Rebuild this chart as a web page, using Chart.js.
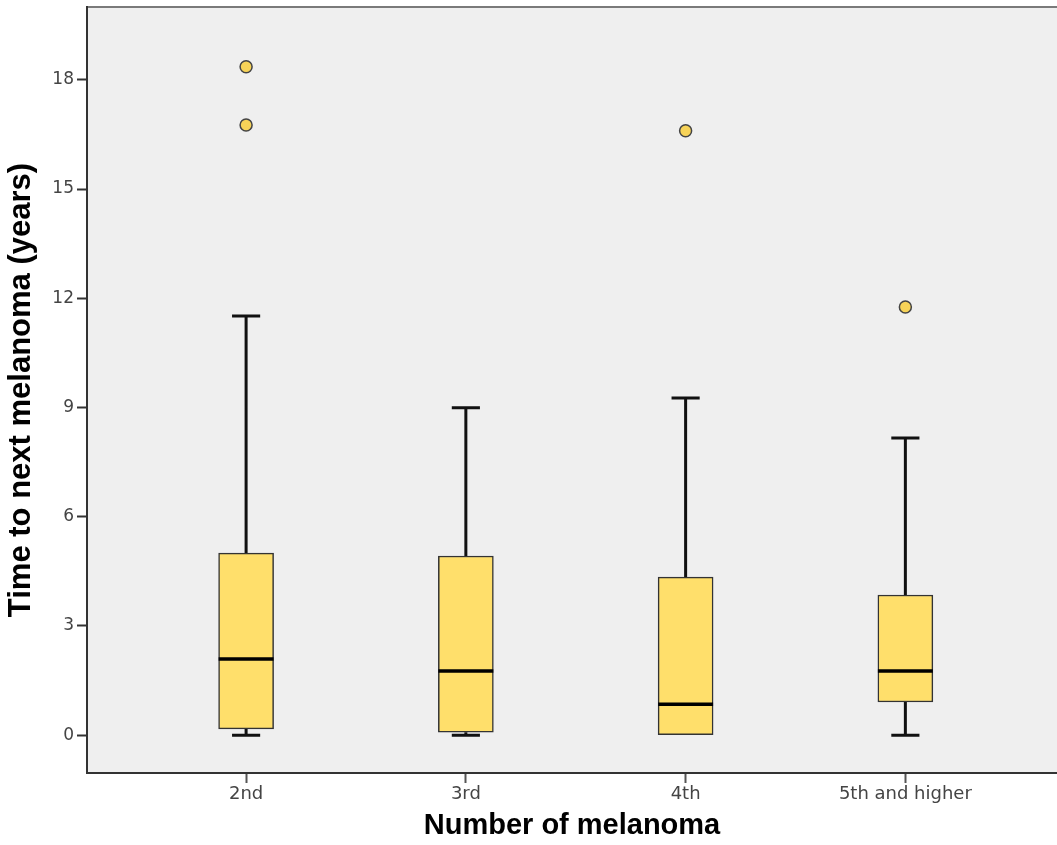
<!DOCTYPE html>
<html>
<head>
<meta charset="utf-8">
<script src="https://cdn.jsdelivr.net/npm/chart.js@4"></script>
<style>
  body { margin: 0; background: #fff; }
  #wrap { width: 1057px; height: 845px; position: relative; }
</style>
</head>
<body>
<div id="wrap"><canvas id="chart"></canvas></div>
<script>
const categories = ["2nd", "3rd", "4th", "5th and higher"];
const whiskerLow = [0, 0, 0, 0];
const q1 = [0.17, 0.08, 0, 0.91];
const medians = [2.09, 1.76, 0.85, 1.76];
const q3 = [5.0, 4.92, 4.34, 3.85];
const whiskerHigh = [11.51, 8.99, 9.26, 8.16];
const outliers = [[18.36, 16.76], [], [16.6], [11.76]];
const yTicks = [0, 3, 6, 9, 12, 15, 18];

const boxHalf = 0.125;  // half box width in category units
const capHalf = 0.064;

// whisker stems + caps, broken with nulls
const whiskerPts = [];
const medianPts = [];
const outlierPts = [];
categories.forEach((c, i) => {
  whiskerPts.push({x: i, y: whiskerLow[i]}, {x: i, y: q1[i]}, {x: i, y: null});
  whiskerPts.push({x: i, y: q3[i]}, {x: i, y: whiskerHigh[i]}, {x: i, y: null});
  if (q1[i] > whiskerLow[i]) {
    whiskerPts.push({x: i - capHalf, y: whiskerLow[i]}, {x: i + capHalf, y: whiskerLow[i]}, {x: i, y: null});
  }
  whiskerPts.push({x: i - capHalf, y: whiskerHigh[i]}, {x: i + capHalf, y: whiskerHigh[i]}, {x: i, y: null});
  medianPts.push({x: i - boxHalf, y: medians[i]}, {x: i + boxHalf, y: medians[i]}, {x: i, y: null});
  outliers[i].forEach(v => outlierPts.push({x: i, y: v}));
});

const panelBg = {
  id: "panelBg",
  beforeDraw(chart) {
    const {ctx, chartArea: a} = chart;
    ctx.save();
    ctx.fillStyle = "#efefef";
    ctx.fillRect(a.left, a.top, a.right - a.left, a.bottom - a.top);
    ctx.strokeStyle = "#7a7a7a";
    ctx.lineWidth = 2;
    ctx.beginPath();
    ctx.moveTo(a.left, a.top);
    ctx.lineTo(a.right, a.top);
    ctx.stroke();
    ctx.restore();
  }
};

new Chart(document.getElementById("chart"), {
  type: "bar",
  data: {
    datasets: [
      {
        type: "bar",
        data: categories.map((c, i) => ({x: i, y: [q1[i], q3[i]]})),
        backgroundColor: "#ffdf6b",
        borderColor: "#333333",
        borderWidth: 1.5,
        borderSkipped: false,
        barThickness: 55,
        order: 2
      },
      {
        type: "line",
        data: whiskerPts,
        borderColor: "#111111",
        borderWidth: 3,
        pointRadius: 0,
        spanGaps: false,
        order: 3
      },
      {
        type: "line",
        data: medianPts,
        borderColor: "#000000",
        borderWidth: 3.5,
        pointRadius: 0,
        spanGaps: false,
        order: 1
      },
      {
        type: "line",
        data: outlierPts,
        showLine: false,
        pointRadius: 6,
        pointBackgroundColor: "#f7d358",
        pointBorderColor: "#444444",
        pointBorderWidth: 1.5,
        order: 0
      }
    ]
  },
  options: {
    responsive: true,
    maintainAspectRatio: false,
    animation: false,
    layout: { autoPadding: false, padding: { top: 7, right: 0, left: 0, bottom: 0 } },
    plugins: { legend: { display: false }, tooltip: { enabled: false } },
    scales: {
      x: {
        type: "linear",
        min: -0.724,
        max: 3.69,
        offset: false,
        afterBuildTicks: s => { s.ticks = categories.map((c, i) => ({value: i})); },
        afterFit: s => { s.height = 72; s.paddingLeft = 0; s.paddingRight = 0; },
        ticks: {
          callback: v => categories[v],
          color: "#444",
          font: { family: "DejaVu Sans", size: 18 },
          padding: 1,
          maxRotation: 0
        },
        grid: { drawOnChartArea: false, drawTicks: true, tickLength: 10, tickColor: "#555", tickWidth: 2, offset: false },
        border: { color: "#333", width: 2 },
        title: {
          display: true,
          text: "Number of melanoma",
          color: "#000",
          font: { family: "Liberation Sans", size: 29, weight: "bold" },
          padding: { top: 0, bottom: 2 }
        }
      },
      y: {
        min: -1.04,
        max: 20,
        afterBuildTicks: s => { s.ticks = yTicks.map(v => ({value: v})); },
        afterFit: s => { s.width = 87; s.paddingTop = 0; s.paddingBottom = 0; },
        ticks: {
          color: "#444",
          font: { family: "DejaVu Sans", size: 17 },
          padding: 3
        },
        grid: { drawOnChartArea: false, drawTicks: true, tickLength: 10, tickColor: "#333", tickWidth: 2 },
        border: { color: "#333", width: 2 },
        title: {
          display: true,
          text: "Time to next melanoma (years)",
          color: "#000",
          font: { family: "Liberation Sans", size: 31, weight: "bold" },
          padding: { top: 3, bottom: 0 }
        }
      }
    }
  },
  plugins: [panelBg]
});
</script>
</body>
</html>
